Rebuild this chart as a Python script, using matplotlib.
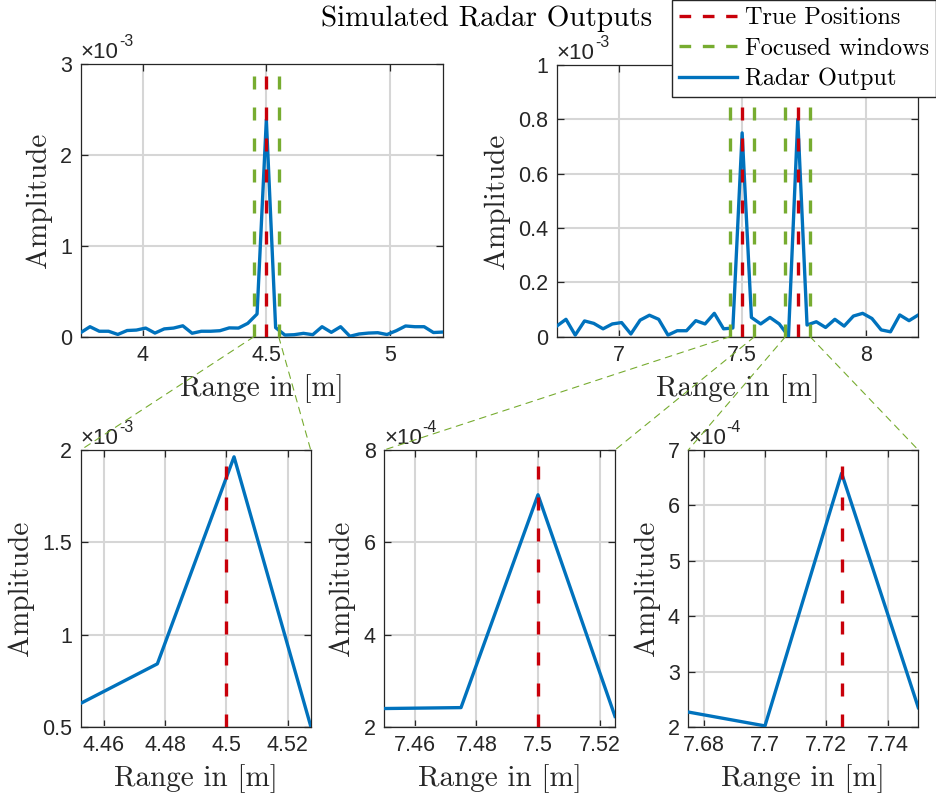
import numpy as np
import matplotlib
matplotlib.use("Agg")
import matplotlib.pyplot as plt
from matplotlib.lines import Line2D
from matplotlib.patches import ConnectionPatch

# ── data ────────────────────────────────────────────────────────────────────
# full range scans (x in m, amplitude in units of 1e-3)
tl_range = [3.75, 3.7875, 3.825, 3.8625, 3.9, 3.9375, 3.975, 4.0125, 4.05, 4.0875,
            4.125, 4.1625, 4.2, 4.2375, 4.275, 4.3125, 4.35, 4.3875, 4.425, 4.4625,
            4.5, 4.5375, 4.575, 4.6125, 4.65, 4.6875, 4.725, 4.7625, 4.8, 4.8375,
            4.875, 4.9125, 4.95, 4.9875, 5.025, 5.0625, 5.1, 5.1375, 5.175, 5.2125]
tl_amp = [0.045, 0.11, 0.06, 0.06, 0.025, 0.068, 0.073, 0.095, 0.04, 0.086,
          0.095, 0.12, 0.038, 0.06, 0.06, 0.066, 0.097, 0.095, 0.147, 0.25,
          2.39, 0.10, 0.018, 0.022, 0.037, 0.022, 0.11, 0.048, 0.11, 0.005,
          0.03, 0.04, 0.044, 0.024, 0.066, 0.118, 0.11, 0.11, 0.046, 0.051]

tr_range = [6.75, 6.7875, 6.825, 6.8625, 6.9, 6.9375, 6.975, 7.0125, 7.05, 7.0875,
            7.125, 7.1625, 7.2, 7.2375, 7.275, 7.3125, 7.35, 7.3875, 7.425, 7.4625,
            7.5, 7.5375, 7.575, 7.6125, 7.65, 7.6875, 7.725, 7.7625, 7.8, 7.8375,
            7.875, 7.9125, 7.95, 7.9875, 8.025, 8.0625, 8.1, 8.1375, 8.175, 8.2125]
tr_amp = [0.039, 0.064, 0.006, 0.058, 0.049, 0.029, 0.047, 0.052, 0.010, 0.061,
          0.079, 0.064, 0.006, 0.022, 0.022, 0.059, 0.047, 0.086, 0.029, 0.032,
          0.75, 0.071, 0.047, 0.071, 0.047, 0.002, 0.80, 0.043, 0.055, 0.034,
          0.064, 0.039, 0.076, 0.086, 0.067, 0.025, 0.018, 0.080, 0.059, 0.080]

# focused windows (zoomed scans)
bl_range = [4.4525, 4.4775, 4.5025, 4.5275]
bl_amp = [0.628, 0.842, 1.963, 0.505]          # x1e-3
bm_range = [7.45, 7.475, 7.5, 7.525]
bm_amp = [2.40, 2.42, 7.03, 2.23]              # x1e-4
br_range = [7.675, 7.70, 7.725, 7.75]
br_amp = [2.27, 2.02, 6.58, 2.35]              # x1e-4

true_pos = [4.5, 7.5, 7.725]
windows = [(4.45, 4.55), (7.45, 7.55), (7.675, 7.775)]

# tick labels
tl_xticks, tl_xlabels = [4, 4.5, 5], ["4", "4.5", "5"]
tl_yticks, tl_ylabels = [0, 1e-3, 2e-3, 3e-3], ["0", "1", "2", "3"]
tr_xticks, tr_xlabels = [7, 7.5, 8], ["7", "7.5", "8"]
tr_yticks = [0, 0.2e-3, 0.4e-3, 0.6e-3, 0.8e-3, 1e-3]
tr_ylabels = ["0", "0.2", "0.4", "0.6", "0.8", "1"]
bl_xticks, bl_xlabels = [4.46, 4.48, 4.5, 4.52], ["4.46", "4.48", "4.5", "4.52"]
bl_yticks, bl_ylabels = [0.5e-3, 1e-3, 1.5e-3, 2e-3], ["0.5", "1", "1.5", "2"]
bm_xticks, bm_xlabels = [7.46, 7.48, 7.5, 7.52], ["7.46", "7.48", "7.5", "7.52"]
bm_yticks, bm_ylabels = [2e-4, 4e-4, 6e-4, 8e-4], ["2", "4", "6", "8"]
br_xticks, br_xlabels = [7.68, 7.7, 7.72, 7.74], ["7.68", "7.7", "7.72", "7.74"]
br_yticks = [2e-4, 3e-4, 4e-4, 5e-4, 6e-4, 7e-4]
br_ylabels = ["2", "3", "4", "5", "6", "7"]

# ── style ───────────────────────────────────────────────────────────────────
BLUE, RED, GREEN = "#0072BD", "#C8000A", "#77AC30"
AXC = "#262626"
SERIF = "cmr10"
SANS = "Liberation Sans"
LW = 2.4
DASH = (3.9, 5.4)

W, H = 937, 798
fig = plt.figure(figsize=(W / 100, H / 100), dpi=100)


def px_axes(left, top, right, bottom):
    return fig.add_axes([left / W, 1 - bottom / H, (right - left) / W, (bottom - top) / H])


def style(ax, xticks, xlabels, yticks, ylabels, xlim, ylim, exp):
    ax.set_xlim(*xlim)
    ax.set_ylim(*ylim)
    ax.set_xticks(xticks)
    ax.set_xticklabels(xlabels)
    ax.set_yticks(yticks)
    ax.set_yticklabels(ylabels)
    ax.grid(True, color="#d6d6d6", linewidth=1.5, zorder=0)
    ax.set_axisbelow(True)
    ax.tick_params(direction="in", length=5, width=0.9, color=AXC,
                   top=True, right=True, labelsize=15.5, labelcolor=AXC, pad=6)
    for lab in ax.get_xticklabels() + ax.get_yticklabels():
        lab.set_fontfamily(SANS)
    for sp in ax.spines.values():
        sp.set_color(AXC)
        sp.set_linewidth(0.9)
    # exponent label in MATLAB style
    ax.text(0.0, 1.004, "\u00d710", transform=ax.transAxes,
            fontsize=16, family=SANS, color=AXC, ha="left", va="bottom")
    ax.annotate(str(exp), xy=(0.0, 1.0), xycoords="axes fraction",
                xytext=(27.5, 11), textcoords="offset points",
                fontsize=11.5, family=SANS, color=AXC, ha="left", va="bottom")
    ax.set_xlabel("Range in [m]", fontsize=21, family=SERIF, color=AXC, labelpad=6)
    ax.set_ylabel("Amplitude", fontsize=21, family=SERIF, color=AXC, labelpad=6)


def vline(ax, x, color):
    ax.axvline(x, color=color, linewidth=LW, linestyle=(0, DASH), zorder=4)


# ── top row: full range ──────────────────────────────────────────────────────
ax_tl = px_axes(80.7, 64.3, 442.7, 336.7)
ax_tl.plot(tl_range, np.array(tl_amp) * 1e-3, color=BLUE, linewidth=LW, zorder=3)
for w in windows[0]:
    vline(ax_tl, w, GREEN)
vline(ax_tl, true_pos[0], RED)
style(ax_tl, tl_xticks, tl_xlabels, tl_yticks, tl_ylabels,
      (tl_range[0], tl_range[-1]), (0, 3e-3), "-3")

ax_tr = px_axes(556.7, 65.0, 918.3, 336.7)
ax_tr.plot(tr_range, np.array(tr_amp) * 1e-3, color=BLUE, linewidth=LW, zorder=3)
for win in windows[1:]:
    for w in win:
        vline(ax_tr, w, GREEN)
for t in true_pos[1:]:
    vline(ax_tr, t, RED)
style(ax_tr, tr_xticks, tr_xlabels, tr_yticks, tr_ylabels,
      (tr_range[0], tr_range[-1]), (0, 1e-3), "-3")

# ── bottom row: focused windows ──────────────────────────────────────────────
ax_bl = px_axes(80.7, 450.0, 310.7, 727.0)
ax_bl.plot(bl_range, np.array(bl_amp) * 1e-3, color=BLUE, linewidth=LW, zorder=3)
vline(ax_bl, true_pos[0], RED)
style(ax_bl, bl_xticks, bl_xlabels, bl_yticks, bl_ylabels,
      (bl_range[0], bl_range[-1]), (0.5e-3, 2e-3), "-3")

ax_bm = px_axes(384.0, 450.0, 615.0, 727.0)
ax_bm.plot(bm_range, np.array(bm_amp) * 1e-4, color=BLUE, linewidth=LW, zorder=3)
vline(ax_bm, true_pos[1], RED)
style(ax_bm, bm_xticks, bm_xlabels, bm_yticks, bm_ylabels,
      (bm_range[0], bm_range[-1]), (2e-4, 8e-4), "-4")

ax_br = px_axes(688.3, 450.0, 918.3, 727.0)
ax_br.plot(br_range, np.array(br_amp) * 1e-4, color=BLUE, linewidth=LW, zorder=3)
vline(ax_br, true_pos[2], RED)
style(ax_br, br_xticks, br_xlabels, br_yticks, br_ylabels,
      (br_range[0], br_range[-1]), (2e-4, 7e-4), "-4")

# ── zoom connectors ─────────────────────────────────────────────────────────
links = [(ax_tl, windows[0], ax_bl), (ax_tr, windows[1], ax_bm), (ax_tr, windows[2], ax_br)]
for top_ax, (w0, w1), bot_ax in links:
    y0 = top_ax.get_ylim()[0]
    for wx, corner in ((w0, (0, 1)), (w1, (1, 1))):
        con = ConnectionPatch(xyA=(wx, y0), coordsA=top_ax.transData,
                              xyB=corner, coordsB=bot_ax.transAxes,
                              color=GREEN, linewidth=0.8, linestyle=(0, (6, 5)), zorder=10)
        fig.add_artist(con)

# ── title & legend ──────────────────────────────────────────────────────────
fig.text(487 / W, 1 - 19 / H, "Simulated Radar Outputs", fontsize=21, family=SERIF,
         color="black", ha="center", va="center")

handles = [
    Line2D([0], [0], color=RED, linewidth=LW, linestyle=(0, (3.5, 3.5))),
    Line2D([0], [0], color=GREEN, linewidth=LW, linestyle=(0, (3.5, 3.5))),
    Line2D([0], [0], color=BLUE, linewidth=LW),
]
leg = fig.legend(handles, ["True Positions", "Focused windows", "Radar Output"],
                 loc="upper right", bbox_to_anchor=(936 / W, 1.0),
                 prop={"family": SERIF, "size": 17.5}, frameon=True, fancybox=False,
                 edgecolor=AXC, framealpha=1, handlelength=2.4, handletextpad=0.3,
                 borderpad=0.3, labelspacing=0.33, borderaxespad=0)
leg.get_frame().set_linewidth(1.0)
leg.set_zorder(20)

fig.savefig("out.png", dpi=100)
